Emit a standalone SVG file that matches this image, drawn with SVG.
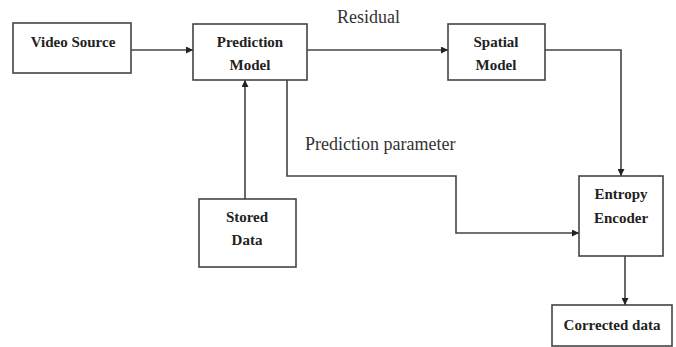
<svg xmlns="http://www.w3.org/2000/svg" width="676" height="347" viewBox="0 0 676 347">
  <defs>
    <marker id="arrow" viewBox="0 0 10 10" refX="10" refY="5" markerWidth="7" markerHeight="7" markerUnits="userSpaceOnUse" orient="auto">
      <path d="M0,0 L10,5 L0,10 z" fill="#222"/>
    </marker>
    <style>
      .box { fill: #fff; stroke: #444; stroke-width: 1.6; }
      .node { font-family: 'Liberation Serif', 'DejaVu Serif', serif; font-weight: bold; font-size: 15px; fill: #222; text-anchor: middle; }
      .lbl { font-family: 'Liberation Serif', 'DejaVu Serif', serif; font-size: 18px; fill: #333; }
      .edge { fill: none; stroke: #444; stroke-width: 1.6; }
    </style>
  </defs>
  <rect width="676" height="347" fill="#fff"/>

  <g id="connectors">
    <path class="edge" d="M131,50 H193" marker-end="url(#arrow)"/>
    <path class="edge" d="M307,50 H448" marker-end="url(#arrow)"/>
    <path class="edge" d="M545,50 H621 V176" marker-end="url(#arrow)"/>
    <path class="edge" d="M245,199 V80" marker-end="url(#arrow)"/>
    <path class="edge" d="M287,80 V176 H456 V233 H579" marker-end="url(#arrow)"/>
    <path class="edge" d="M625,256 V305" marker-end="url(#arrow)"/>
    <text class="lbl" x="337" y="23">Residual</text>
    <text class="lbl" x="305" y="150">Prediction parameter</text>
  </g>

  <g id="video-source">
    <rect class="box" x="13" y="23" width="118" height="50"/>
    <text class="node" x="73" y="47">Video Source</text>
  </g>

  <g id="prediction-model">
    <rect class="box" x="193" y="24" width="114" height="56"/>
    <text class="node" x="250" y="47">Prediction</text>
    <text class="node" x="250" y="70">Model</text>
  </g>

  <g id="spatial-model">
    <rect class="box" x="448" y="24" width="97" height="56"/>
    <text class="node" x="496" y="47">Spatial</text>
    <text class="node" x="496" y="70">Model</text>
  </g>

  <g id="stored-data">
    <rect class="box" x="199" y="199" width="97" height="68"/>
    <text class="node" x="247" y="222">Stored</text>
    <text class="node" x="247" y="245">Data</text>
  </g>

  <g id="entropy-encoder">
    <rect class="box" x="579" y="176" width="84" height="80"/>
    <text class="node" x="621" y="199">Entropy</text>
    <text class="node" x="621" y="223">Encoder</text>
  </g>

  <g id="corrected-data">
    <rect class="box" x="552" y="305" width="120" height="41"/>
    <text class="node" x="612" y="330">Corrected data</text>
  </g>
</svg>
